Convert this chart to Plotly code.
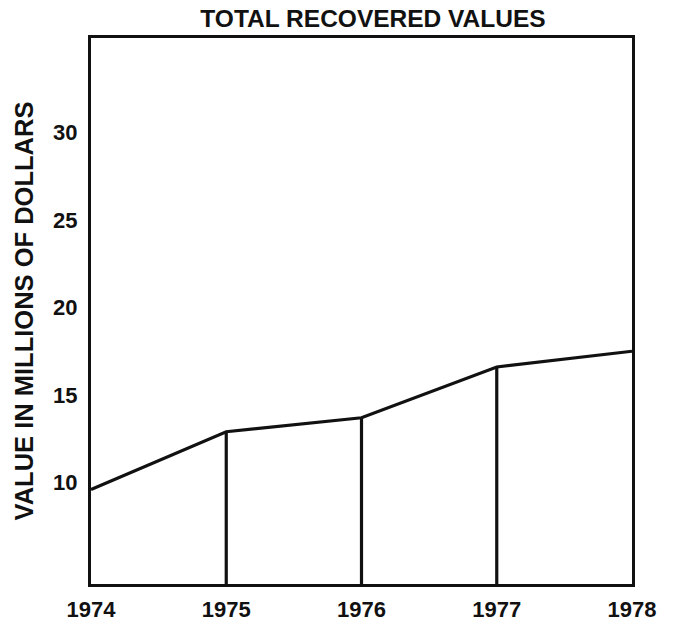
import plotly.graph_objects as go

# Total recovered values, millions of dollars
years = [1974, 1975, 1976, 1977, 1978]
values = [9.6, 12.9, 13.7, 16.6, 17.5]
y_ticks = [10, 15, 20, 25, 30]
x_ticks = [1974, 1975, 1976, 1977, 1978]

Y_MIN, Y_MAX = 4.2, 35.4
FONT = "Liberation Sans, Arial, Helvetica, sans-serif"
INK = "#111111"

# vertical drop lines under the interior years
drop_x, drop_y = [], []
for yr, v in zip(years[1:-1], values[1:-1]):
    drop_x += [yr, yr, None]
    drop_y += [Y_MIN, v, None]

fig = go.Figure()
fig.add_trace(go.Scatter(x=drop_x, y=drop_y, mode="lines",
                         line=dict(color=INK, width=3.2),
                         hoverinfo="skip", showlegend=False))
fig.add_trace(go.Scatter(x=years, y=values, mode="lines",
                         line=dict(color=INK, width=3.2),
                         showlegend=False))

fig.update_layout(
    width=677, height=627,
    margin=dict(l=91, r=45, t=38, b=43),
    paper_bgcolor="white", plot_bgcolor="white",
    font=dict(family=FONT, color=INK),
    title=dict(text="TOTAL RECOVERED VALUES",
               font=dict(size=24.5, weight=700, family=FONT, color=INK),
               x=373 / 677, xref="container", xanchor="center",
               y=1 - 18 / 627, yref="container", yanchor="middle"),
    xaxis=dict(range=[1974, 1978], tickvals=x_ticks,
               ticktext=[str(t) for t in x_ticks],
               showgrid=False, zeroline=False, automargin=False,
               showline=True, linecolor=INK, linewidth=3, mirror=True,
               ticks="", ticklabelstandoff=4,
               tickfont=dict(size=22, weight=700, family=FONT, color=INK)),
    yaxis=dict(range=[Y_MIN, Y_MAX], tickvals=y_ticks,
               ticktext=[str(t) for t in y_ticks],
               showgrid=False, zeroline=False, automargin=False,
               showline=True, linecolor=INK, linewidth=3, mirror=True,
               ticks="", ticklabelstandoff=6,
               tickfont=dict(size=22, weight=700, family=FONT, color=INK),
               title=dict(text="VALUE IN MILLIONS OF DOLLARS",
                          font=dict(size=25.5, weight=700, family=FONT, color=INK),
                          standoff=13)),
)

fig.write_html("out.html")
